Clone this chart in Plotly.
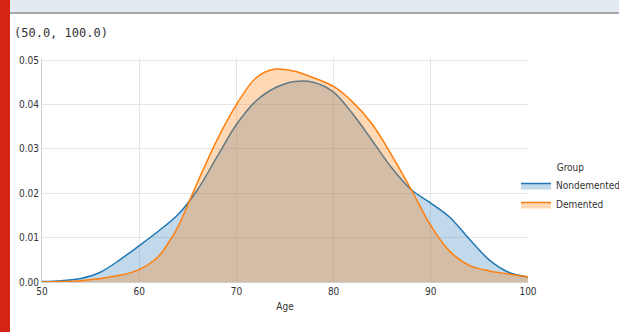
import plotly.graph_objects as go

# ---- data ----
nd_age = [50, 52, 54, 56, 58, 60, 62, 64, 66, 68, 70, 72, 74, 76, 78, 80, 82, 84, 86, 88,
          90, 92, 94, 96, 98, 100]
nd_density = [0.0001, 0.0003, 0.0008, 0.0022, 0.0050, 0.0082, 0.0115, 0.0152, 0.0208, 0.0282,
              0.0355, 0.0408, 0.0438, 0.0452, 0.0450, 0.0428, 0.0378, 0.0318, 0.0257, 0.0208,
              0.0178, 0.0145, 0.0096, 0.0050, 0.0022, 0.0011]

de_age = [50, 52, 54, 56, 58, 60, 62, 63, 64, 66, 68, 70, 72, 74, 76, 78, 80, 82, 84, 86, 88,
          90, 92, 94, 96, 98, 100]
de_density = [0.0000, 0.0001, 0.0003, 0.0008, 0.0015, 0.0028, 0.0058, 0.0088, 0.0125, 0.0225,
              0.0320, 0.0400, 0.0460, 0.0480, 0.0475, 0.0460, 0.0441, 0.0405, 0.0355, 0.0285,
              0.0208, 0.0127, 0.0068, 0.0037, 0.0025, 0.0018, 0.0011]

x_ticks = [50, 60, 70, 80, 90, 100]
y_ticks = [0.00, 0.01, 0.02, 0.03, 0.04, 0.05]
y_tick_labels = ["0.00", "0.01", "0.02", "0.03", "0.04", "0.05"]
groups = ["Nondemented", "Demented"]
output_text = "(50.0, 100.0)"

BLUE = "rgb(31,119,180)"
ORANGE = "rgb(255,127,14)"
FONT = "Liberation Sans Narrow, DejaVu Sans Condensed, Liberation Sans, sans-serif"

fig = go.Figure()
fig.add_trace(go.Scatter(
    x=nd_age, y=nd_density, name=groups[0], mode="lines",
    line=dict(color=BLUE, width=1.5, shape="spline", smoothing=0.9),
    fill="tozeroy", fillcolor="rgba(31,119,180,0.28)",
))
fig.add_trace(go.Scatter(
    x=de_age, y=de_density, name=groups[1], mode="lines",
    line=dict(color=ORANGE, width=1.5, shape="spline", smoothing=0.9),
    fill="tozeroy", fillcolor="rgba(255,127,14,0.30)",
))

L, R, T, B = 42, 91, 58, 50
W, H = 619, 332
pw, ph = W - L - R, H - T - B


def px_x(p):
    return (p - L) / pw


def px_y(p):
    return (H - B - p) / ph


fig.update_layout(
    width=W, height=H,
    margin=dict(l=L, r=R, t=T, b=B, autoexpand=False),
    paper_bgcolor="white", plot_bgcolor="white",
    font=dict(family=FONT, size=10, color="#333333"),
    showlegend=True,
    legend=dict(
        title=dict(text="Group", side="top center", font=dict(size=10, color="#333333")),
        x=px_x(516), y=px_y(158), xanchor="left", yanchor="top",
        bgcolor="rgba(0,0,0,0)", font=dict(size=10, color="#333333"),
        itemwidth=30, tracegroupgap=0,
    ),
    xaxis=dict(
        range=[50, 100], tickvals=x_ticks, ticktext=[str(v) for v in x_ticks],
        showgrid=True, gridcolor="#e6e6e6", gridwidth=1,
        showline=True, linecolor="#d0d0d0", linewidth=1,
        zeroline=False, ticks="", ticklen=0,
        title=dict(text="Age", font=dict(size=10, color="#333333"), standoff=6),
        tickfont=dict(size=10, color="#333333"),
    ),
    yaxis=dict(
        range=[0, 0.0505], tickvals=y_ticks, ticktext=y_tick_labels,
        showgrid=True, gridcolor="#e6e6e6", gridwidth=1,
        showline=True, linecolor="#d0d0d0", linewidth=1,
        zeroline=False, ticks="", ticklen=0,
        tickfont=dict(size=10, color="#333333"),
    ),
    shapes=[
        # notebook chrome: top bar, its border and red left bar
        dict(type="rect", xref="paper", yref="paper",
             x0=px_x(0), x1=px_x(W), y0=px_y(12), y1=px_y(0),
             fillcolor="#e4eaf2", line=dict(width=0), layer="above"),
        dict(type="rect", xref="paper", yref="paper",
             x0=px_x(0), x1=px_x(W), y0=px_y(14), y1=px_y(12),
             fillcolor="#a6a9ad", line=dict(width=0), layer="above"),
        dict(type="rect", xref="paper", yref="paper",
             x0=px_x(0), x1=px_x(10), y0=px_y(H), y1=px_y(0),
             fillcolor="#d42414", line=dict(width=0), layer="above"),
    ],
    annotations=[
        dict(text=output_text, xref="paper", yref="paper",
             x=px_x(12), y=px_y(33), xanchor="left", yanchor="middle",
             showarrow=False,
             font=dict(family="DejaVu Sans Mono, Liberation Mono, monospace",
                       size=12, color="#333333")),
    ],
)

fig.write_html(
    "out.html",
    config={"displayModeBar": False},
    post_script="document.body.style.margin='0';document.body.style.overflow='hidden';",
)
